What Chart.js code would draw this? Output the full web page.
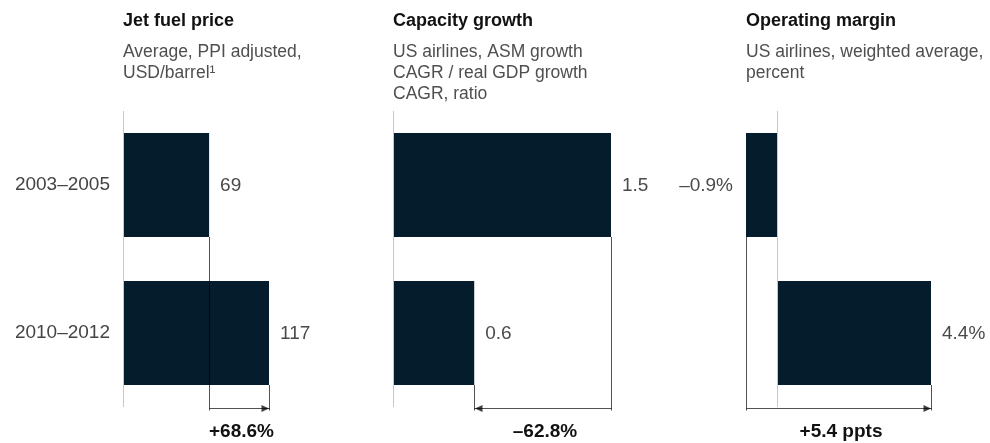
<!DOCTYPE html>
<html><head><meta charset="utf-8">
<script src="https://cdn.jsdelivr.net/npm/chart.js@4.4.1/dist/chart.umd.min.js"></script>
<style>
html,body{margin:0;padding:0;background:#fff;width:990px;height:443px;overflow:hidden}
canvas{position:absolute;left:0;top:0}
</style></head>
<body>
<canvas id="c1" width="990" height="443"></canvas>
<canvas id="c2" width="990" height="443"></canvas>
<canvas id="c3" width="990" height="443"></canvas>
<script>
// ---- data ----
const periods = ['2003–2005', '2010–2012'];
const fuelPrice = [69, 117];
const fuelLabels = ['69', '117'];
const capacityRatio = [1.53, 0.57];
const capacityLabels = ['1.5', '0.6'];
const operatingMargin = [-0.9, 4.4];
const marginLabels = ['–0.9%', '4.4%'];
const changeLabels = ['+68.6%', '–62.8%', '+5.4 ppts'];
const titles = ['Jet fuel price', 'Capacity growth', 'Operating margin'];
const subtitles = [
  ['Average, PPI adjusted,', 'USD/barrel¹'],
  ['US airlines, ASM growth', 'CAGR / real GDP growth', 'CAGR, ratio'],
  ['US airlines, weighted average,', 'percent']
];

const FONT = "'Liberation Sans', Arial, sans-serif";
const NAVY = '#051c2c';

const annot = {
  id: 'annot',
  afterDraw(chart, args, opts) {
    const ctx = chart.ctx, x = chart.scales.x, area = chart.chartArea;
    const meta = chart.getDatasetMeta(0);
    const vals = chart.data.datasets[0].data;
    ctx.save();
    // zero axis line
    const x0 = Math.round(x.getPixelForValue(0)) + 0.5;
    ctx.strokeStyle = '#c8c8c8'; ctx.lineWidth = 1;
    ctx.beginPath(); ctx.moveTo(x0, area.top); ctx.lineTo(x0, area.bottom); ctx.stroke();
    // titles
    ctx.textAlign = 'left'; ctx.textBaseline = 'alphabetic';
    ctx.fillStyle = '#111'; ctx.font = 'bold 18px ' + FONT;
    ctx.fillText(opts.title, area.left, 26);
    ctx.fillStyle = '#4f4f4f'; ctx.font = '17.5px ' + FONT;
    opts.subtitle.forEach((s, i) => ctx.fillText(s, area.left, 57 + i * 21));
    // value labels
    ctx.font = '19px ' + FONT; ctx.fillStyle = '#4a4a4a'; ctx.textBaseline = 'middle';
    meta.data.forEach((bar, i) => {
      const v = vals[i];
      if (v >= 0) { ctx.textAlign = 'left'; ctx.fillText(opts.labels[i], x.getPixelForValue(v) + 11, bar.y + 1); }
      else { ctx.textAlign = 'right'; ctx.fillText(opts.labels[i], x.getPixelForValue(v) - 13, bar.y + 1); }
    });
    // change bracket
    const b1 = meta.data[0], b2 = meta.data[1];
    const xa = Math.round(x.getPixelForValue(vals[0])) + 0.5;
    const xb = Math.round(x.getPixelForValue(vals[1])) + 0.5;
    const yArrow = Math.round(area.bottom) + 1.5;
    const yEnd = yArrow + 2;
    ctx.strokeStyle = 'rgba(0,0,0,0.68)'; ctx.fillStyle = 'rgba(0,0,0,0.75)'; ctx.lineWidth = 1;
    ctx.beginPath();
    ctx.moveTo(xa, b1.y + b1.height / 2); ctx.lineTo(xa, yEnd);
    ctx.moveTo(xb, b2.y + b2.height / 2); ctx.lineTo(xb, yEnd);
    ctx.moveTo(xa, yArrow); ctx.lineTo(xb, yArrow);
    ctx.stroke();
    const dir = Math.sign(xb - xa);
    ctx.beginPath();
    ctx.moveTo(xb - 0.5 * dir, yArrow);
    ctx.lineTo(xb - 8 * dir, yArrow - 3.5);
    ctx.lineTo(xb - 8 * dir, yArrow + 3.5);
    ctx.closePath(); ctx.fill();
    // change label
    ctx.fillStyle = '#111'; ctx.font = 'bold 19px ' + FONT;
    ctx.textAlign = 'center'; ctx.textBaseline = 'middle';
    ctx.fillText(opts.change, (xa + xb) / 2 + 2, 432);
    ctx.restore();
  }
};

function makeChart(id, values, idx, labels, padLeft, padRight, showY) {
  return new Chart(document.getElementById(id), {
    type: 'bar',
    data: {
      labels: periods,
      datasets: [{
        data: values,
        backgroundColor: NAVY,
        borderWidth: 0,
        barPercentage: 0.703,
        categoryPercentage: 1
      }]
    },
    options: {
      responsive: false,
      animation: false,
      indexAxis: 'y',
      layout: { padding: { top: 111, bottom: 36, left: padLeft, right: padRight } },
      plugins: {
        legend: { display: false },
        tooltip: { enabled: false },
        annot: { title: titles[idx], subtitle: subtitles[idx], labels: labels, change: changeLabels[idx] }
      },
      scales: {
        x: { display: false, min: Math.min(0, ...values), max: Math.max(0, ...values) },
        y: {
          display: showY,
          grid: { display: false, drawTicks: false },
          border: { display: false },
          ticks: { font: { size: 19, family: FONT }, color: '#444', padding: 13 },
          afterFit: s => { s.width = showY ? 123 : 0; }
        }
      }
    },
    plugins: [annot]
  });
}

makeChart('c1', fuelPrice, 0, fuelLabels, 0, 721, true);
makeChart('c2', capacityRatio, 1, capacityLabels, 393, 379, false);
makeChart('c3', operatingMargin, 2, marginLabels, 746, 59, false);
</script>
</body></html>
